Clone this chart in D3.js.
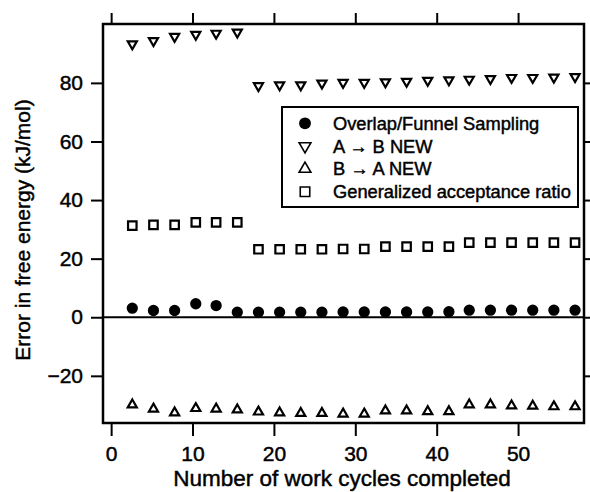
<!DOCTYPE html>
<html>
<head>
<meta charset="utf-8">
<script src="https://cdn.jsdelivr.net/npm/d3@7"></script>
<style>
  body { margin: 0; background: #fff; }
  text { font-family: "Liberation Sans", Arial, Helvetica, sans-serif; fill: #000; stroke: #000; stroke-width: 0.45px; }
</style>
</head>
<body>
<div id="chart"></div>
<script>
// Work cycles completed (x) for every series
const cycles = [2.6, 5.2, 7.8, 10.4, 12.9, 15.5, 18.1, 20.7, 23.3, 25.9, 28.5,
  31.1, 33.7, 36.3, 38.9, 41.5, 44.0, 46.6, 49.2, 51.8, 54.4, 57.0];

// Error in free energy (kJ/mol)
const overlapFunnel = [3.1, 2.3, 2.3, 4.6, 4.0, 1.7, 1.7, 1.7, 1.7, 1.7, 1.8,
  1.8, 1.8, 1.8, 1.8, 1.9, 2.4, 2.4, 2.4, 2.4, 2.4, 2.4];
const aToB = [93.3, 94.4, 95.8, 96.5, 96.9, 97.3, 79.0, 79.3, 79.3, 79.9, 80.1,
  80.1, 80.3, 80.5, 80.8, 81.0, 81.2, 81.4, 81.8, 81.8, 81.9, 82.1];
const bToA = [-29.9, -31.3, -32.6, -31.1, -31.3, -31.6, -32.3, -32.6, -32.8, -32.8, -33.0,
  -33.0, -31.9, -31.9, -32.2, -32.2, -29.9, -29.9, -30.2, -30.3, -30.5, -30.5];
const gar = [31.3, 31.5, 31.5, 32.4, 32.4, 32.4, 23.2, 23.2, 23.2, 23.2, 23.3,
  23.3, 24.1, 24.1, 24.1, 24.1, 25.5, 25.5, 25.5, 25.5, 25.5, 25.5];

const xTicks = [0, 10, 20, 30, 40, 50];
const yTicks = [-20, 0, 20, 40, 60, 80];
const legendLabels = ["Overlap/Funnel Sampling", "A \u2192 B NEW", "B \u2192 A NEW", "Generalized acceptance ratio"];

const width = 590;
const height = 492;
const margin = { top: 24, right: 6, bottom: 69, left: 103 };

const svg = d3.select("#chart").append("svg")
  .attr("width", width)
  .attr("height", height);

const x = d3.scaleLinear().domain([-1, 58.1]).range([margin.left, width - margin.right]);
const y = d3.scaleLinear().domain([-36.1, 100.1]).range([height - margin.bottom, margin.top]);

// axes (outward ticks on all four sides)
const bottomAxis = svg.append("g")
  .attr("transform", `translate(0,${height - margin.bottom})`)
  .call(d3.axisBottom(x).tickValues(xTicks).tickSize(13).tickPadding(10));
const topAxis = svg.append("g")
  .attr("transform", `translate(0,${margin.top})`)
  .call(d3.axisTop(x).tickValues(xTicks).tickSize(11).tickFormat(""));
const leftAxis = svg.append("g")
  .attr("transform", `translate(${margin.left},0)`)
  .call(d3.axisLeft(y).tickValues(yTicks).tickSize(12).tickPadding(8));
const rightAxis = svg.append("g")
  .attr("transform", `translate(${width - margin.right},0)`)
  .call(d3.axisRight(y).tickValues(yTicks).tickSize(8).tickFormat(""));

[bottomAxis, topAxis, leftAxis, rightAxis].forEach(g => {
  g.select(".domain").remove();
  g.selectAll(".tick line").attr("stroke", "#000").attr("stroke-width", 2);
  g.selectAll(".tick text").attr("font-size", 21).attr("fill", "#000");
});

// frame
svg.append("rect")
  .attr("x", margin.left)
  .attr("y", margin.top)
  .attr("width", width - margin.right - margin.left)
  .attr("height", height - margin.bottom - margin.top)
  .attr("fill", "none")
  .attr("stroke", "#000")
  .attr("stroke-width", 2.5);

// zero line
svg.append("line")
  .attr("x1", margin.left).attr("x2", width - margin.right)
  .attr("y1", y(0)).attr("y2", y(0))
  .attr("stroke", "#000").attr("stroke-width", 2);

// axis titles
svg.append("text")
  .attr("x", 342)
  .attr("y", 486)
  .attr("text-anchor", "middle")
  .attr("font-size", 22.5)
  .text("Number of work cycles completed");

svg.append("text")
  .attr("transform", `translate(30,230) rotate(-90)`)
  .attr("text-anchor", "middle")
  .attr("font-size", 21)
  .text("Error in free energy (kJ/mol)");

// markers
const series = [
  { values: overlapFunnel, type: d3.symbolCircle, size: 100, fill: "#000", rot: 0 },
  { values: aToB, type: d3.symbolTriangle, size: 36, fill: "none", rot: 180 },
  { values: bToA, type: d3.symbolTriangle, size: 36, fill: "none", rot: 0 },
  { values: gar, type: d3.symbolSquare, size: 72, fill: "none", rot: 0 }
];

series.forEach(s => {
  const sym = d3.symbol().type(s.type).size(s.size);
  svg.append("g").selectAll("path")
    .data(s.values)
    .join("path")
    .attr("d", sym)
    .attr("transform", (d, i) => `translate(${x(cycles[i])},${y(d)}) rotate(${s.rot})`)
    .attr("fill", s.fill)
    .attr("stroke", "#000")
    .attr("stroke-width", s.fill === "none" ? 2.2 : 0);
});

// legend
const legend = svg.append("g");
legend.append("rect")
  .attr("x", 282).attr("y", 107)
  .attr("width", 296).attr("height", 100)
  .attr("fill", "#fff")
  .attr("stroke", "#000")
  .attr("stroke-width", 2);

legendLabels.forEach((label, i) => {
  const s = series[i];
  const ly = 123.3 + i * 22.8;
  legend.append("path")
    .attr("d", d3.symbol().type(s.type).size(i === 0 ? 110 : i === 3 ? 90 : 60)())
    .attr("transform", `translate(305,${ly}) rotate(${s.rot})`)
    .attr("fill", s.fill)
    .attr("stroke", "#000")
    .attr("stroke-width", s.fill === "none" ? 1.6 : 0);
  legend.append("text")
    .attr("x", 333)
    .attr("y", ly + 6.5)
    .attr("font-size", 18.3)
    .text(label);
});
</script>
</body>
</html>
